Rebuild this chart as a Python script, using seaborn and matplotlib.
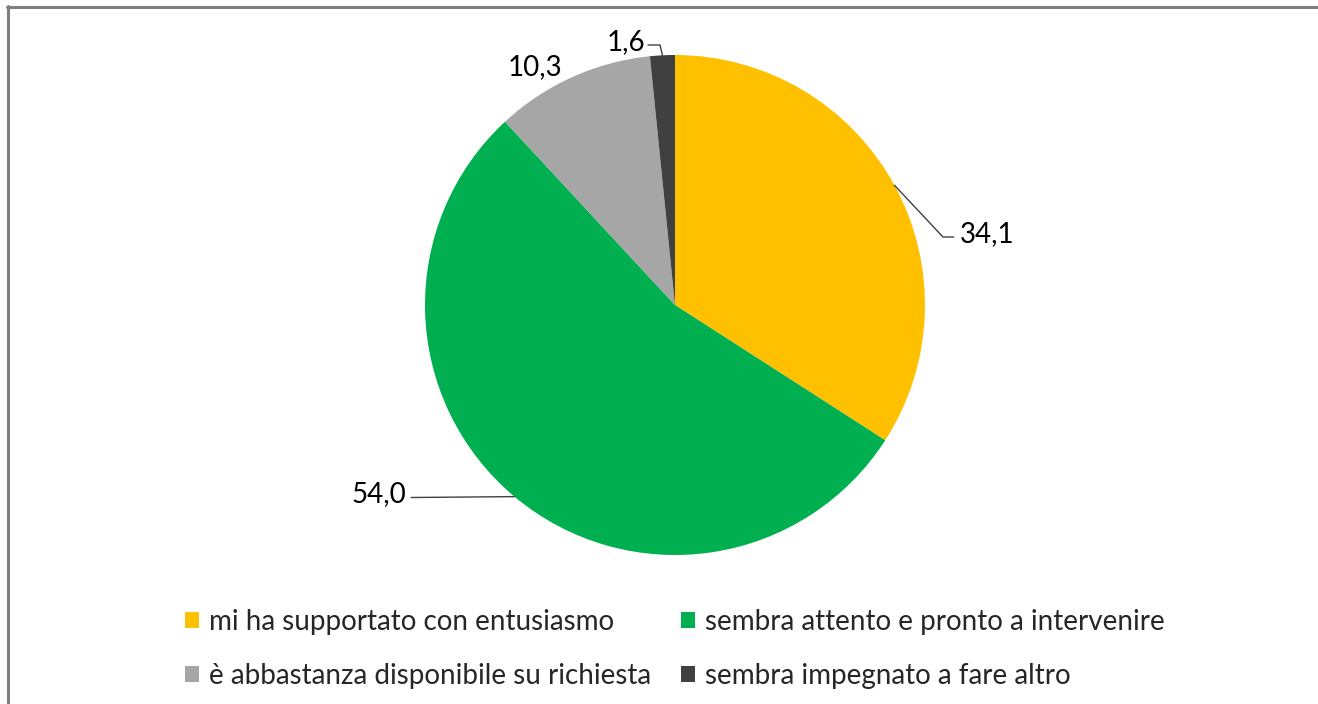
import matplotlib
matplotlib.use("Agg")
import matplotlib.pyplot as plt
import seaborn as sns
import numpy as np
from matplotlib.lines import Line2D
from matplotlib.patches import Patch

categories = ["mi ha supportato con entusiasmo",
              "sembra attento e pronto a intervenire",
              "è abbastanza disponibile su richiesta",
              "sembra impegnato a fare altro"]
values = [34.1, 54.0, 10.3, 1.6]
value_labels = ["34,1", "54,0", "10,3", "1,6"]
colors = ["#FFC000", "#00B050", "#A6A6A6", "#404040"]

sns.set_theme(style="white")
plt.rcParams["font.family"] = ["Lato", "DejaVu Sans"]

W, H = 1318, 704
fig = plt.figure(figsize=(W / 100, H / 100), dpi=100)
fig.patch.set_facecolor("white")

cx, cy, r = 675, 305, 250
ax = fig.add_axes([(cx - r) / W, (H - cy - r) / H, 2 * r / W, 2 * r / H])
wedges, _ = ax.pie(values, colors=colors, startangle=90, counterclock=False,
                   radius=1.0, wedgeprops=dict(linewidth=0))
ax.set_xlim(-1, 1)
ax.set_ylim(-1, 1)
ax.set_aspect("equal")
ax.axis("off")

def edge(w):
    ang = np.deg2rad((w.theta1 + w.theta2) / 2)
    return np.cos(ang), np.sin(ang)

fs = 20
lc = "#404040"
# 34,1
ex, ey = edge(wedges[0])
ax.add_line(Line2D([ex, 1.072, 1.115], [ey, 0.272, 0.272], color=lc, lw=1, clip_on=False))
ax.text(1.14, 0.285, value_labels[0], ha="left", va="center", fontsize=fs, color="black")
# 54,0
ex, ey = edge(wedges[1])
ax.add_line(Line2D([ex, -1.055], [ey, -0.77], color=lc, lw=1, clip_on=False))
ax.text(-1.075, -0.755, value_labels[1], ha="right", va="center", fontsize=fs, color="black")
# 10,3
ax.text(-0.56, 0.952, value_labels[2], ha="center", va="center", fontsize=fs, color="black")
# 1,6
ex, ey = edge(wedges[3])
ax.add_line(Line2D([ex, -0.06, -0.108], [ey, 1.04, 1.04], color=lc, lw=1, clip_on=False))
ax.text(-0.12, 1.052, value_labels[3], ha="right", va="center", fontsize=fs, color="black")

# legend
handles = [Patch(facecolor=c, edgecolor="none") for c in colors]
order = [0, 2, 1, 3]
fig.legend([handles[i] for i in order], [categories[i] for i in order],
           ncol=2, loc="center", bbox_to_anchor=(675 / W, 1 - 649 / H),
           frameon=False, fontsize=fs, handlelength=0.5, handleheight=0.5,
           handletextpad=0.35, columnspacing=1.1, labelspacing=1.0)

# border (top and left)
fig.add_artist(Line2D([7 / W, 1], [1 - 7 / H, 1 - 7 / H], transform=fig.transFigure,
                      color="#808080", lw=2.2))
fig.add_artist(Line2D([8 / W, 8 / W], [0, 1 - 6 / H], transform=fig.transFigure,
                      color="#808080", lw=2.2))

fig.savefig("out.png", dpi=100, facecolor="white")
